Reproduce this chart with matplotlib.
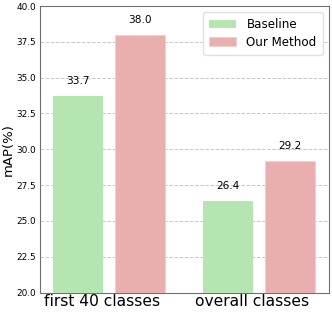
import matplotlib
matplotlib.use("Agg")
import matplotlib.pyplot as plt
import numpy as np

groups = ["first 40 classes", "overall classes"]
baseline = [33.7, 26.4]
ours = [38.0, 29.2]
yticks = [20.0, 22.5, 25.0, 27.5, 30.0, 32.5, 35.0, 37.5, 40.0]

x = np.arange(len(groups))
w = 0.333
off = 0.207

fig, ax = plt.subplots(figsize=(3.32, 3.16), dpi=100)
fig.subplots_adjust(left=0.119, right=0.99, top=0.981, bottom=0.074)

b1 = ax.bar(x - off, baseline, w, color="#b5e5b0", label="Baseline", zorder=3)
b2 = ax.bar(x + off, ours, w, color="#e9aeae", edgecolor="#f3d0d0", linewidth=0.8,
            label="Our Method", zorder=3)

for rect, v in zip(list(b1) + list(b2), baseline + ours):
    ax.text(rect.get_x() + rect.get_width() / 2, v + 0.7, f"{v:.1f}",
            ha="center", va="bottom", fontsize=7.6)

ax.set_ylim(20, 40)
ax.set_xlim(-0.463, 1.465)
ax.set_yticks(yticks)
ax.set_yticklabels([f"{t:.1f}" for t in yticks], fontsize=6.4)
# labels sit a little left of the group centres in the original
ax.set_xticks(x - 0.043)
ax.set_xticklabels(groups, fontsize=11.2)
ax.tick_params(axis="both", length=0, pad=2.5)
ax.tick_params(axis="x", pad=1)
ax.set_ylabel("mAP(%)", fontsize=9.5, labelpad=1.5)
ax.yaxis.grid(True, linestyle="--", color="#c8c8c8", linewidth=0.7, zorder=0)
for s in ax.spines.values():
    s.set_color("#707070")

ax.legend(loc="upper right", fontsize=8.6, handlelength=2.2, borderpad=0.5,
          labelspacing=0.4, handletextpad=0.9, framealpha=1, edgecolor="#e0e0e0")

fig.savefig("out.png", dpi=100)
